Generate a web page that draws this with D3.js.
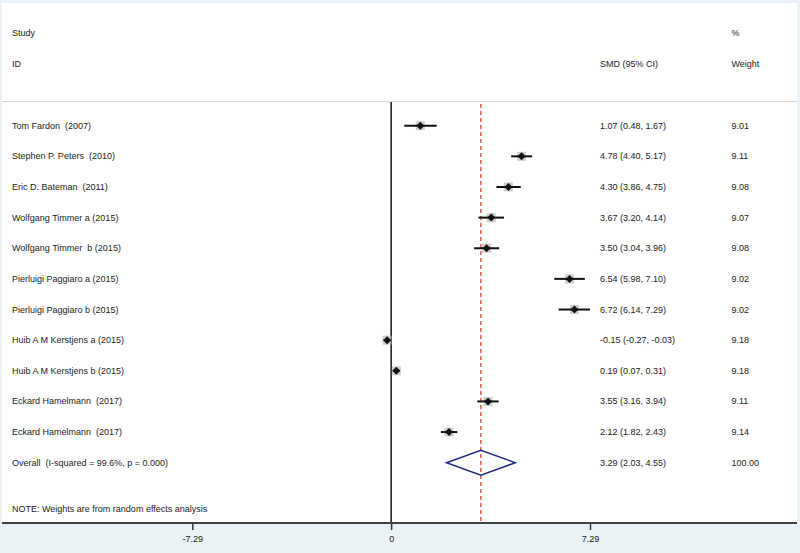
<!DOCTYPE html>
<html><head><meta charset="utf-8">
<script src="https://cdn.jsdelivr.net/npm/d3@7"></script>
<style>body{margin:0;background:#eaf2f6;} svg{display:block;font-family:"Liberation Sans",Arial,sans-serif;} text{white-space:pre;}</style>
</head><body><svg id="c" width="800" height="553"></svg>
<script>
const studies = ["Tom Fardon  (2007)","Stephen P. Peters  (2010)","Eric D. Bateman  (2011)","Wolfgang Timmer a (2015)","Wolfgang Timmer  b (2015)","Pierluigi Paggiaro a (2015)","Pierluigi Paggiaro b (2015)","Huib A M Kerstjens a (2015)","Huib A M Kerstjens b (2015)","Eckard Hamelmann  (2017)","Eckard Hamelmann  (2017)"];
const smd = [1.07,4.78,4.30,3.67,3.50,6.54,6.72,-0.15,0.19,3.55,2.12];
const lower = [0.48,4.40,3.86,3.20,3.04,5.98,6.14,-0.27,0.07,3.16,1.82];
const upper = [1.67,5.17,4.75,4.14,3.96,7.10,7.29,-0.03,0.31,3.94,2.43];
const weights = ["9.01","9.11","9.08","9.07","9.08","9.02","9.02","9.18","9.18","9.11","9.14"];
const overall = {label:"Overall  (I-squared = 99.6%, p = 0.000)", est:3.29, lo:2.03, hi:4.55, weight:"100.00"};
const ticks = [-7.29, 0, 7.29];
const tickLabels = ["-7.29","0","7.29"];
const note = "NOTE: Weights are from random effects analysis";

const svg = d3.select("#c");
const x = d3.scaleLinear().domain([-7.29, 7.29]).range([192.3, 590]);
const rowIdx = d3.range(studies.length + 1);
const y = d3.scalePoint().domain(rowIdx).range([125.7, 462.7]);
const fmt = v => d3.format(".2f")(v).replace("\u2212","-");

// white panel
svg.append("rect").attr("x",2).attr("y",3).attr("width",795).attr("height",520).attr("fill","#fff");
// header separator
svg.append("line").attr("x1",2).attr("x2",797).attr("y1",101.5).attr("y2",101.5).attr("stroke","#d4d4d4").attr("stroke-width",1.2);

const txt = (xx, yy, s, anchor) => svg.append("text").attr("x",xx).attr("y",yy).attr("font-size",9).attr("fill","#222").attr("xml:space","preserve").attr("text-anchor",anchor||"start").text(s);
txt(12, 36, "Study");
txt(12, 67, "ID");
txt(600, 67, "SMD (95% CI)");
txt(731.5, 36, "%");
txt(731.5, 67, "Weight");

// zero line
svg.append("line").attr("x1",x(0)).attr("x2",x(0)).attr("y1",102).attr("y2",523).attr("stroke","#222").attr("stroke-width",1.6);
// overall dashed line
svg.append("line").attr("x1",x(overall.est)).attr("x2",x(overall.est)).attr("y1",104).attr("y2",523)
  .attr("stroke","#c0392b").attr("stroke-width",1.2).attr("stroke-dasharray","4,3");

// studies
studies.forEach((s,i)=>{
  const cy = y(i);
  txt(12, cy+3, s);
  txt(600, cy+3, `${fmt(smd[i])} (${fmt(lower[i])}, ${fmt(upper[i])})`);
  txt(731.5, cy+3, weights[i]);
  svg.append("rect").attr("x",x(smd[i])-4.5).attr("y",cy-4.5).attr("width",9).attr("height",9).attr("fill","#bbb").attr("opacity",0.7);
  svg.append("line").attr("x1",x(lower[i])).attr("x2",x(upper[i])).attr("y1",cy).attr("y2",cy).attr("stroke","#111").attr("stroke-width",2);
  const cx = x(smd[i]);
  svg.append("path").attr("d",`M${cx-4},${cy}L${cx},${cy-4}L${cx+4},${cy}L${cx},${cy+4}Z`).attr("fill","#111");
});

// overall
const oy = y(studies.length);
txt(12, oy+3, overall.label);
txt(600, oy+3, `${fmt(overall.est)} (${fmt(overall.lo)}, ${fmt(overall.hi)})`);
txt(731.5, oy+3, overall.weight);
svg.append("path").attr("d",`M${x(overall.lo)},${oy}L${x(overall.est)},${oy-12.5}L${x(overall.hi)},${oy}L${x(overall.est)},${oy+12.5}Z`)
  .attr("fill","none").attr("stroke","#232a7e").attr("stroke-width",1.5);

txt(12, 512, note);

// axis
const axis = svg.append("g").attr("transform","translate(0,523)")
  .call(d3.axisBottom(x).tickValues(ticks).tickFormat((d,i)=>tickLabels[i]).tickSize(7).tickPadding(5));
axis.select(".domain").remove();
axis.selectAll(".tick line").attr("stroke","#333").attr("stroke-width",1.5);
axis.selectAll(".tick text").attr("font-size",9).attr("fill","#222").attr("font-family","Liberation Sans, Arial, sans-serif").attr("dy","0.71em").attr("y",13);
svg.append("line").attr("x1",2).attr("x2",797).attr("y1",523).attr("y2",523).attr("stroke","#444").attr("stroke-width",1.8);
</script></body></html>
